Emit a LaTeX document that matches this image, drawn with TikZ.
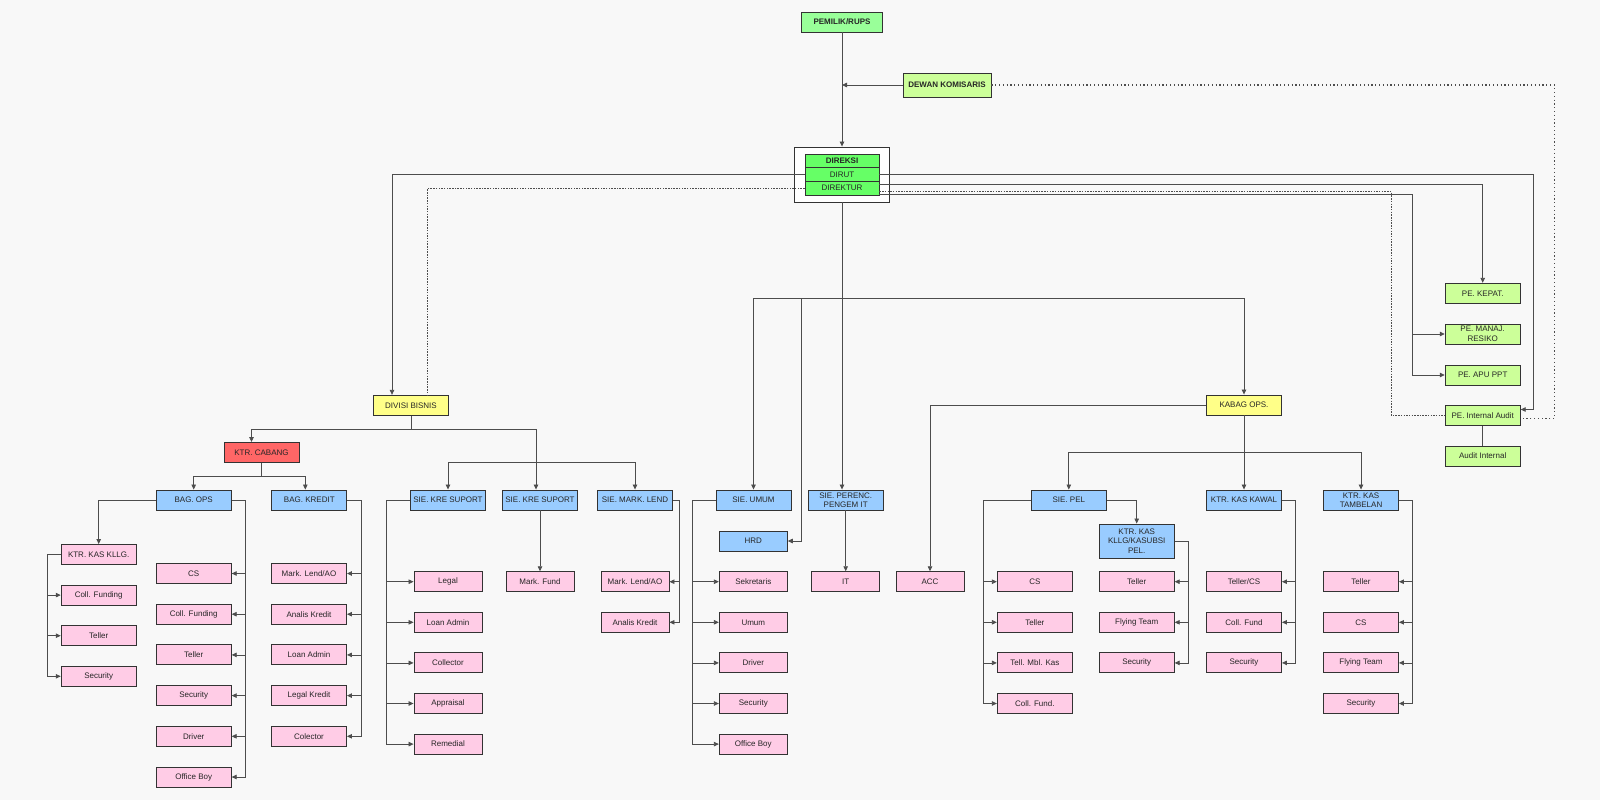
\documentclass[tikz,border=0pt]{standalone}
\usepackage{fontspec}
\setmainfont{Liberation Sans}
\usetikzlibrary{arrows.meta}
\definecolor{bgc}{HTML}{F8F8F8}
\definecolor{lnc}{HTML}{4D4D4D}
\definecolor{grnA}{HTML}{99FF99}
\definecolor{grnB}{HTML}{66FF66}
\definecolor{lime}{HTML}{CCFF99}
\definecolor{ylw}{HTML}{FFFF88}
\definecolor{rd}{HTML}{FF6666}
\definecolor{blu}{HTML}{99CCFF}
\definecolor{pnk}{HTML}{FFCCE6}

\begin{document}
\begin{tikzpicture}[x=1pt,y=-1pt,
   org/.style={draw=black!80, line width=0.9pt, text=black!85, minimum width=75pt,
     minimum height=20pt, inner sep=1pt, align=center, font=\fontsize{8}{9.5}\selectfont},
   bold/.style={font=\fontsize{8}{9.5}\selectfont\bfseries},
   greenbox/.style={org, fill=grnA},
   rowbox/.style={org, fill=grnB, minimum width=74pt, minimum height=13.6pt, inner sep=0pt},
   limebox/.style={org, fill=lime},
   yellowbox/.style={org, fill=ylw},
   redbox/.style={org, fill=rd},
   bluebox/.style={org, fill=blu},
   pinkbox/.style={org, fill=pnk},
   conn/.style={draw=lnc, line width=0.8pt},
   fine dashed/.style={dash pattern=on 1.5pt off 1.2pt},
   sparse dots/.style={line width=1.2pt, dash pattern=on 1.2pt off 2.6pt},
   >={Triangle[length=5pt,width=4.5pt]}]
   \fill[bgc] (0,0) rectangle (1600,800);
   \useasboundingbox (0,0) rectangle (1600,800);

   % top
   \node[greenbox, bold, minimum width=81pt] (pemilik) at (842,22) {PEMILIK/RUPS};
   \node[limebox, bold, minimum width=88pt, minimum height=24pt] (dewan) at (947,85) {DEWAN KOMISARIS};
   \node[draw=black!80, line width=0.9pt, fill=white, minimum width=95pt, minimum height=55pt] (direksibox) at (842,174.5) {};
   \node[rowbox, bold] (direksi) at (842,161) {DIREKSI};
   \node[rowbox] (dirut) at (842,174.6) {DIRUT};
   \node[rowbox] (direktur) at (842,188.2) {DIREKTUR};

   \node[limebox] (kepat) at (1482.7,293.3) {PE. KEPAT.};
   \node[limebox] (manaj) at (1482.7,334) {PE. MANAJ.\\RESIKO};
   \node[limebox] (apu) at (1482.7,375) {PE. APU PPT};
   \node[limebox] (intaudit) at (1482.7,415.5) {PE. Internal Audit};
   \node[limebox] (audit) at (1482.7,456) {Audit Internal};

   \node[yellowbox] (divisi) at (411,405.3) {DIVISI BISNIS};
   \node[yellowbox] (kabag) at (1244,405) {KABAG OPS.};
   \node[redbox] (cabang) at (261.5,452.5) {KTR. CABANG};

   \node[bluebox] (bagops) at (193.7,500) {BAG. OPS};
   \node[bluebox] (bagkredit) at (309.3,500) {BAG. KREDIT};
   \node[bluebox] (kresup) at (448,500) {SIE. KRE SUPORT};
   \node[bluebox] (kresupb) at (540,500) {SIE. KRE SUPORT};
   \node[bluebox] (marklend) at (635,500) {SIE. MARK. LEND};
   \node[bluebox] (umum) at (753.5,500) {SIE. UMUM};
   \node[bluebox] (perenc) at (845.7,500) {SIE. PERENC.\\PENGEM IT};
   \node[bluebox] (pel) at (1068.8,500) {SIE. PEL};
   \node[bluebox] (kawal) at (1244,500) {KTR. KAS KAWAL};
   \node[bluebox] (tambelan) at (1361,500) {KTR. KAS\\TAMBELAN};
   \node[bluebox, minimum width=68pt] (hrd) at (753.3,541) {HRD};
   \node[bluebox, minimum height=34pt] (kasubsi) at (1136.7,541) {KTR. KAS\\KLLG/KASUBSI\\PEL.};
   \node[pinkbox] (kasklg) at (98.7,554.5) {KTR. KAS KLLG.};

   \node[pinkbox, minimum width=68pt] (markfund) at (540,581.7) {Mark. Fund};
   \node[pinkbox, minimum width=68pt] (it) at (845.7,581.7) {IT};
   \node[pinkbox, minimum width=68pt] (acc) at (930,581.7) {ACC};

   \foreach \t [count=\i] in {Coll. Funding, Teller, Security}
   \node[pinkbox] (kk\i) at (98.7,{554.5+40.6*\i}) {\t};
   \foreach \t [count=\i] in {CS, Coll. Funding, Teller, Security, Driver, Office Boy}
   \node[pinkbox] (ops\i) at (193.7,{573.5+40.7*(\i-1)}) {\t};
   \foreach \t [count=\i] in {Mark. Lend/AO, Analis Kredit, Loan Admin, Legal Kredit, Colector}
   \node[pinkbox] (kr\i) at (309,{573.5+40.7*(\i-1)}) {\t};
   \foreach \t [count=\i] in {Legal, Loan Admin, Collector, Appraisal, Remedial}
   \node[pinkbox, minimum width=68pt] (ks\i) at (448,{581.7+40.6*(\i-1)}) {\t};
   \foreach \t [count=\i] in {Mark. Lend/AO, Analis Kredit}
   \node[pinkbox, minimum width=68pt] (ml\i) at (635,{581.7+40.6*(\i-1)}) {\t};
   \foreach \t [count=\i] in {Sekretaris, Umum, Driver, Security, Office Boy}
   \node[pinkbox, minimum width=68pt] (um\i) at (753.3,{581.7+40.6*(\i-1)}) {\t};
   \foreach \t [count=\i] in {CS, Teller, Tell. Mbl. Kas, Coll. Fund.}
   \node[pinkbox] (pl\i) at (1034.8,{581.7+40.6*(\i-1)}) {\t};
   \foreach \t [count=\i] in {Teller, Flying Team, Security}
   \node[pinkbox] (sb\i) at (1136.7,{581.7+40.6*(\i-1)}) {\t};
   \foreach \t [count=\i] in {Teller/CS, Coll. Fund, Security}
   \node[pinkbox] (kw\i) at (1244,{581.7+40.6*(\i-1)}) {\t};
   \foreach \t [count=\i] in {Teller, CS, Flying Team, Security}
   \node[pinkbox] (tb\i) at (1361,{581.7+40.6*(\i-1)}) {\t};

   % lines from the top
   \draw[conn,->] (pemilik.south) -- (direksibox.north);
   \draw[conn,->] (dewan.west) -- (dewan.west -| pemilik.south);
   \draw[conn,sparse dots] (dewan.east) -- ++(563,0) |- ([yshift=-3pt]intaudit.east);

   \draw[conn,->] (dirut.east) -- ++(654.3,0) |- ([yshift=6pt]intaudit.east);
   \draw[conn,->] ([yshift=3.9pt]direktur.east) -| (kepat.north);
   \draw[conn,fine dashed] ([yshift=-3.5pt]direktur.east) -- ++(512,0) |- (intaudit.west);
   \draw[conn,->] ([yshift=-6.5pt]direktur.east) -- ++(532.7,0) coordinate (pebus) |- (apu.west);
   \draw[conn,->] (pebus |- manaj.west) -- (manaj.west);
   \draw[conn] (intaudit.south) -- (audit.north);

   \draw[conn,->] (dirut.west) -| ([xshift=-19pt]divisi.north);
   \draw[conn,fine dashed] (direktur.west) -| ([xshift=16.7pt]divisi.north);

   \draw[conn,->] (direksibox.south) -- (direksibox.south |- perenc.north);
   \path (direksibox.south) ++(0,96) coordinate (opsbus);
   \draw[conn,->] (opsbus) -| (umum.north);
   \draw[conn,->] (opsbus) -| (kabag.north);
   \draw[conn,->] ([xshift=-41pt]opsbus) |- (hrd.east);

   % bisnis side
   \draw[conn] (divisi.south) -- ++(0,13.7) coordinate (dbus);
   \draw[conn,->] (dbus) -| ([xshift=-10pt]cabang.north);
   \draw[conn,->] (dbus) -| ([xshift=-4pt]kresupb.north);
   \path ([xshift=-4pt]kresupb.north) ++(0,-26.7) coordinate (sbus);
   \draw[conn,->] (sbus) -| (kresup.north);
   \draw[conn,->] (sbus) -| (marklend.north);

   \draw[conn] (cabang.south) -- ++(0,13.6) coordinate (cbus);
   \draw[conn,->] (cbus) -| (bagops.north);
   \draw[conn,->] (cbus) -| ([xshift=-4pt]bagkredit.north);
   \draw[conn,->] (bagops.west) -| (kasklg.north);

   \foreach \i in {1,2,3}
   \draw[conn,->] (kasklg.west) -- ++(-13.6,0) |- (kk\i.west);
   \foreach \i in {1,...,6}
   \draw[conn,->] (bagops.east) -- ++(13.3,0) |- (ops\i.east);
   \foreach \i in {1,...,5}
   \draw[conn,->] (bagkredit.east) -- ++(13.7,0) |- (kr\i.east);
   \foreach \i in {1,...,5}
   \draw[conn,->] (kresup.west) -- ++(-24,0) |- (ks\i.west);
   \draw[conn,->] (kresupb.south) -- (markfund.north);
   \foreach \i in {1,2}
   \draw[conn,->] (marklend.east) -- ++(6,0) |- (ml\i.east);
   \foreach \i in {1,...,5}
   \draw[conn,->] (umum.west) -- ++(-23.3,0) |- (um\i.west);
   \draw[conn,->] (perenc.south) -- (it.north);

   % ops side
   \draw[conn,->] (kabag.west) -| (acc.north);
   \draw[conn] (kabag.south) -- ++(0,37) coordinate (kbus);
   \draw[conn,->] (kbus) -| (pel.north);
   \draw[conn,->] (kbus) -- (kawal.north);
   \draw[conn,->] (kbus) -| (tambelan.north);
   \draw[conn,->] (pel.east) -| (kasubsi.north);

   \foreach \i in {1,...,4}
   \draw[conn,->] (pel.west) -- ++(-47.7,0) |- (pl\i.west);
   \foreach \i in {1,2,3}
   \draw[conn,->] (kasubsi.east) -- ++(13.7,0) |- (sb\i.east);
   \foreach \i in {1,2,3}
   \draw[conn,->] (kawal.east) -- ++(13.7,0) |- (kw\i.east);
   \foreach \i in {1,...,4}
   \draw[conn,->] (tambelan.east) -- ++(13.4,0) |- (tb\i.east);

\end{tikzpicture}
\end{document}
